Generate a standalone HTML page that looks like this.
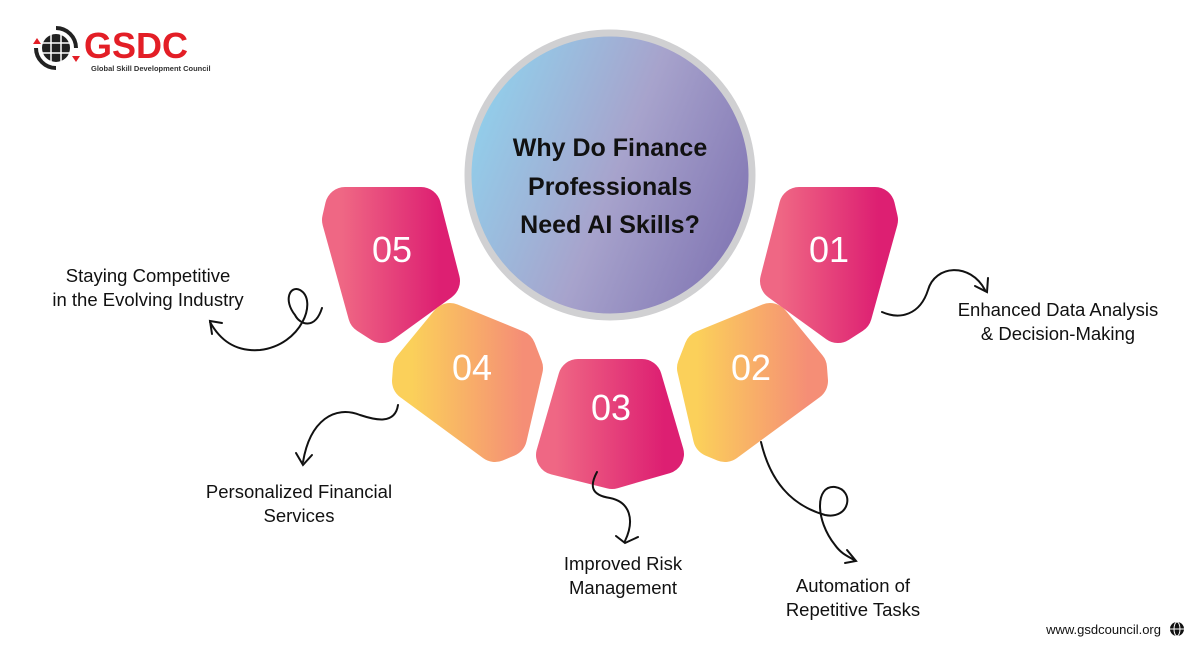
<!DOCTYPE html>
<html><head><meta charset="utf-8"><style>
body{margin:0;width:1200px;height:650px;background:#fff;overflow:hidden;font-family:"Liberation Sans",sans-serif}
</style></head><body>
<svg width="1200" height="650" viewBox="0 0 1200 650" xmlns="http://www.w3.org/2000/svg">
<defs>
<linearGradient id="pk" x1="0" y1="0" x2="1" y2="0"><stop offset="0" stop-color="#ef6784"/><stop offset="1" stop-color="#dd1f72"/></linearGradient>
<linearGradient id="or" x1="0" y1="0" x2="1" y2="0"><stop offset="0" stop-color="#fbd05a"/><stop offset="1" stop-color="#f58e76"/></linearGradient>
<linearGradient id="cg" x1="0" y1="0.2" x2="1" y2="0.6"><stop offset="0" stop-color="#8fd3ee"/><stop offset="0.55" stop-color="#a7a3cc"/><stop offset="1" stop-color="#8479b5"/></linearGradient>
</defs>
<circle cx="56" cy="48" r="14" fill="#222"/>
<g stroke="#fff" stroke-width="1.5" fill="none"><line x1="42" y1="43" x2="70" y2="43"/><line x1="42" y1="53" x2="70" y2="53"/><line x1="51" y1="34" x2="51" y2="62"/><line x1="61" y1="34" x2="61" y2="62"/></g>
<path d="M56,28 A20,20 0 0 1 76,48" stroke="#222" stroke-width="4" fill="none"/>
<path d="M56,68 A20,20 0 0 1 36,48" stroke="#222" stroke-width="4" fill="none"/>
<polygon points="72,56 80,56 76,62" fill="#e31e26"/><polygon points="33,44 41,44 37,38" fill="#e31e26"/>
<text x="84" y="58" font-size="36" font-weight="bold" fill="#e31e26" font-family="Liberation Sans">GSDC</text>
<text x="91" y="71" font-size="7.5" font-weight="bold" fill="#333">Global Skill Development Council</text>
<circle cx="610" cy="175" r="142" fill="url(#cg)" stroke="#d0d0d2" stroke-width="7"/>
<g font-size="25" font-weight="bold" fill="#111" text-anchor="middle">
<text x="610" y="156">Why Do Finance</text><text x="610" y="195">Professionals</text><text x="610" y="233">Need AI Skills?</text></g>
<g stroke-linejoin="round" stroke-width="40">
<polygon points="345,207 421,207 440,281 382,323 368,314 342,220" fill="url(#pk)" stroke="url(#pk)"/>
<polygon points="450,323 516,350 523,368 507,437 495,442 412,381 413,368" fill="url(#or)" stroke="url(#or)"/>
<polygon points="578,379 642,379 664,454 612,469 556,455" fill="url(#pk)" stroke="url(#pk)"/>
<polygon points="770,323 704,350 697,368 713,437 725,442 808,381 807,368" fill="url(#or)" stroke="url(#or)"/>
<polygon points="875,207 799,207 780,281 838,323 852,314 878,220" fill="url(#pk)" stroke="url(#pk)"/>
</g>
<g font-size="36" fill="#fff" text-anchor="middle">
<text x="392" y="262">05</text><text x="472" y="380">04</text><text x="611" y="420">03</text><text x="751" y="380">02</text><text x="829" y="262">01</text></g>
<g stroke="#111" stroke-width="2" fill="none" stroke-linecap="round">
<path d="M882,312 C900,320 920,315 928,290 C935,265 970,262 985,290"/><path d="M975,286 L987,292 L988,278"/>
<path d="M322,308 C315,330 300,325 295,315 C283,300 290,285 300,290 C318,300 302,345 260,350 C235,352 220,340 210,322"/><path d="M212,334 L210,321 L222,323"/>
<path d="M398,405 C395,425 375,420 360,415 C335,405 310,420 303,462"/><path d="M296,453 L303,465 L312,455"/>
<path d="M597,472 C590,485 590,495 610,498 C630,502 635,520 625,541"/><path d="M616,536 L625,543 L638,537"/>
<path d="M761,442 C770,480 790,505 825,515 C850,520 855,490 835,487 C815,485 815,520 835,545 C842,555 850,557 854,560"/><path d="M847,550 L856,561 L845,563"/>
</g>
<g font-size="18.5" fill="#111">
<text x="148" y="282" text-anchor="middle">Staying Competitive</text><text x="148" y="306" text-anchor="middle">in the Evolving Industry</text>
<text x="1058" y="316" text-anchor="middle">Enhanced Data Analysis</text><text x="1058" y="340" text-anchor="middle">&amp; Decision-Making</text>
<text x="299" y="498" text-anchor="middle">Personalized Financial</text><text x="299" y="522" text-anchor="middle">Services</text>
<text x="623" y="570" text-anchor="middle">Improved Risk</text><text x="623" y="594" text-anchor="middle">Management</text>
<text x="853" y="592" text-anchor="middle">Automation of</text><text x="853" y="616" text-anchor="middle">Repetitive Tasks</text>
</g>
<text x="1161" y="634" font-size="13" fill="#111" text-anchor="end">www.gsdcouncil.org</text>
<circle cx="1177" cy="629" r="7" fill="#111"/>
<g stroke="#fff" stroke-width="1" fill="none"><ellipse cx="1177" cy="629" rx="3" ry="7"/><line x1="1170" y1="629" x2="1184" y2="629"/></g>
</svg>
</body></html>
